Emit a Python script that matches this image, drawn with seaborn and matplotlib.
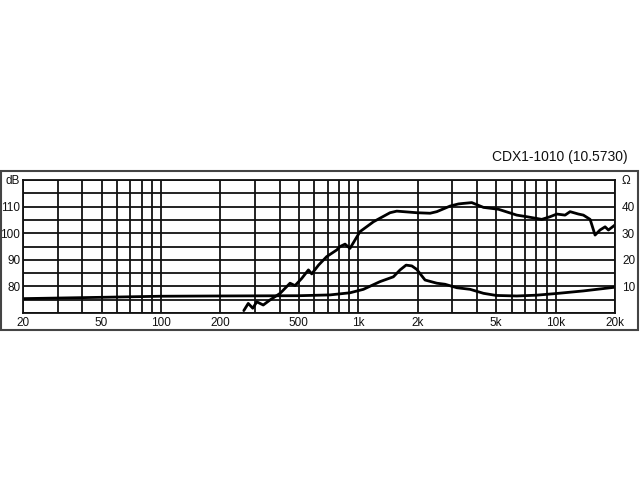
import numpy as np
import pandas as pd
import seaborn as sns
import matplotlib.pyplot as plt
from matplotlib.patches import Rectangle

# SPL response (dB)
spl_freq = [263, 277, 292, 306, 330, 357, 402, 451, 478, 517, 559, 581, 629, 692,
            778, 809, 857, 908, 1021, 1194, 1449, 1567, 1978, 2312, 2501, 2920,
            3219, 3412, 3760, 4310, 5133, 6357, 7143, 8512, 9380, 10140, 11170,
            11840, 13050, 13830, 14960, 15850, 16790, 17820, 18520, 20000]
spl_db = [70.9, 73.6, 71.8, 74.2, 73.0, 74.9, 77.4, 81.2, 80.3, 83.0, 86.2, 84.7,
          88.0, 91.2, 93.7, 95.0, 95.9, 94.3, 100.6, 104.3, 107.7, 108.3, 107.7,
          107.5, 108.1, 110.2, 111.0, 111.2, 111.5, 109.7, 109.0, 106.8, 106.2,
          105.2, 106.2, 107.2, 106.8, 108.1, 107.2, 106.8, 105.2, 99.3, 101.2,
          102.4, 101.2, 103.1]

# impedance (ohm)
imp_freq = [20, 50, 100, 200, 500, 719, 908, 1062, 1289, 1506, 1629, 1747, 1868,
            1978, 2180, 2501, 2754, 3157, 3690, 4310, 5000, 6357, 8000, 10000,
            13830, 20000]
imp_ohm = [5.4, 5.9, 6.3, 6.4, 6.5, 6.8, 7.6, 8.9, 11.8, 13.6, 16.2, 18.0, 17.7,
           16.4, 12.4, 11.2, 10.8, 9.5, 8.9, 7.4, 6.6, 6.4, 6.7, 7.3, 8.3, 9.7]

x_ticks = [20, 50, 100, 200, 500, 1000, 2000, 5000, 10000, 20000]
x_labels = ["20", "50", "100", "200", "500", "1k", "2k", "5k", "10k", "20k"]
grid_freqs = [m * d for d in (10, 100, 1000) for m in range(2, 10)] + [10000, 20000]

spl = pd.DataFrame({"f": spl_freq, "db": spl_db})
imp = pd.DataFrame({"f": imp_freq, "db": [v + 70 for v in imp_ohm]})

sns.set_style("white")
plt.rcParams["font.family"] = ["Liberation Sans", "DejaVu Sans"]

fig = plt.figure(figsize=(6.4, 4.8), dpi=100)
ax = fig.add_axes([23 / 640, 1 - 313 / 480, 592 / 640, 133 / 480])

sns.lineplot(data=imp, x="f", y="db", ax=ax, color="black", lw=2)
sns.lineplot(data=spl, x="f", y="db", ax=ax, color="black", lw=2)

ax.set_xscale("log")
ax.set_xlim(20, 20000)
ax.set_ylim(70, 120)
ax.set_xticks(grid_freqs, minor=True)
ax.set_xticks(x_ticks)
ax.set_xticklabels(x_labels)
ax.set_yticks(np.arange(70, 121, 5), minor=True)
ax.set_yticks([80, 90, 100, 110, 120])
ax.set_yticklabels(["80", "90", "100", "110", "dB"])
ax.grid(True, which="both", color="#111111", lw=1.3)
ax.tick_params(which="both", length=0, labelsize=8.5, pad=2, labelcolor="#111111")
ax.tick_params(axis="x", pad=3)
ax.set_xlabel("")
ax.set_ylabel("")
for s in ax.spines.values():
    s.set_color("#111111")
    s.set_linewidth(1.3)

ax2 = ax.twinx()
ax2.set_ylim(0, 50)
ax2.set_yticks([10, 20, 30, 40, 50])
ax2.set_yticklabels(["10", "20", "30", "40", "Ω"])
ax2.tick_params(length=0, labelsize=8.5, pad=5, labelcolor="#111111")
for s in ax2.spines.values():
    s.set_visible(False)

fig.text(628 / 640, 1 - 157 / 480, "CDX1-1010 (10.5730)", ha="right", va="center",
         fontsize=10, color="#111111")
fig.patches.append(Rectangle((1 / 640, 1 - 330 / 480), 637 / 640, 159 / 480,
                             transform=fig.transFigure, fill=False,
                             edgecolor="#444444", lw=1.5))

fig.savefig("out.png", dpi=100)
